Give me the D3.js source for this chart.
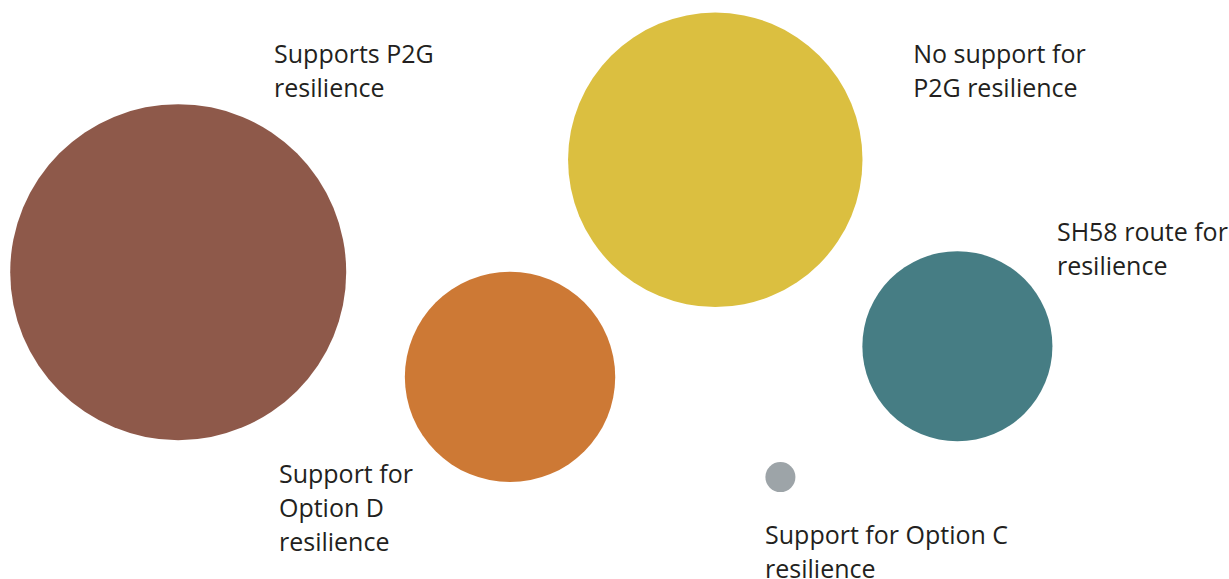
<!DOCTYPE html>
<html>
<head>
<meta charset="utf-8">
<script src="https://cdn.jsdelivr.net/npm/d3@7"></script>
<style>
	html, body {margin: 0; padding: 0; background: #fff;}
</style>
</head>
<body>
<div id="grafic"></div>
<script>
// valors (mida de la bombolla = àrea)
const categories = ["Supports P2G resilience", "Support for Option D resilience", "No support for P2G resilience", "SH58 route for resilience", "Support for Option C resilience"];
const valors = [125, 49, 96, 40, 1];
const colors = ["#8e594a", "#cd7935", "#dbbf40", "#467d84", "#9da4a8"];
// posició dels centres en unitats del plànol (0-100)
const centreX = [14.5, 41.5, 58.2, 77.9, 63.5];
const centreY = [47, 65.1, 27.6, 59.8, 82.4];
// etiquetes, una línia per element
const etiquetes = [
	["Supports P2G", "resilience"],
	["Support for", "Option D", "resilience"],
	["No support for", "P2G resilience"],
	["SH58 route for", "resilience"],
	["Support for Option C", "resilience"]
];
const etiqX = [22.3, 22.7, 74.3, 86, 62.25];
const etiqY = [10.9, 83.4, 10.9, 41.7, 94];

const amplada = 1229, alçada = 579;

const llenç = d3.select("#grafic")
	.append("svg")
	.attr("width", amplada)
	.attr("height", alçada);

const x = d3.scaleLinear().domain([0, 100]).range([0, amplada]);
const y = d3.scaleLinear().domain([0, 100]).range([0, alçada]);
const r = d3.scaleSqrt().domain([0, d3.max(valors)]).range([0, 168]);

const dades = categories.map((c, i) => ({
	cat: c, val: valors[i], col: colors[i],
	cx: centreX[i], cy: centreY[i],
	lin: etiquetes[i], lx: etiqX[i], ly: etiqY[i]
}));

llenç.append("g")
	.selectAll("circle")
	.data(dades)
	.enter()
	.append("circle")
		.attr("cx", d => x(d.cx))
		.attr("cy", d => y(d.cy))
		.attr("r", d => r(d.val))
		.attr("fill", d => d.col);

const text = llenç.append("g")
	.selectAll("text")
	.data(dades)
	.enter()
	.append("text")
		.attr("x", d => x(d.lx))
		.attr("y", d => y(d.ly))
		.attr("fill", "#231f20")
		.style("font-family", "'Open Sans', sans-serif")
		.style("font-size", "25px");

text.selectAll("tspan")
	.data(d => d.lin.map(l => ({l: l, x: x(d.lx)})))
	.enter()
	.append("tspan")
		.attr("x", d => d.x)
		.attr("dy", (d, i) => i === 0 ? 0 : 34)
		.text(d => d.l);
</script>
</body>
</html>
